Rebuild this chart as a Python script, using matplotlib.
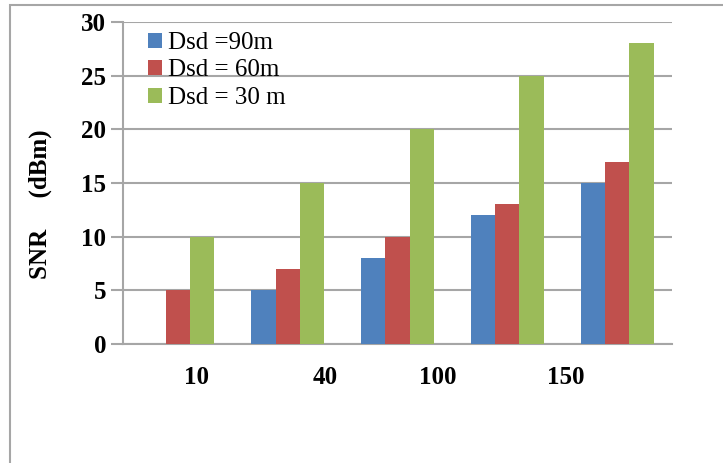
import numpy as np
import matplotlib.pyplot as plt
from matplotlib.patches import Rectangle, Patch

# SNR values for each relay distance group
snr_90 = [0, 5, 8, 12, 15]
snr_60 = [5, 7, 10, 13, 17]
snr_30 = [10, 15, 20, 25, 28]
series_labels = ["Dsd =90m", "Dsd = 60m", "Dsd = 30 m"]
x_labels = ["10", "40", "100", "150"]

colors = ["#4F81BD", "#C0504D", "#9BBB59"]
grid_gray = "#A6A6A6"
serif = ["Liberation Serif", "DejaVu Serif"]

fig = plt.figure(figsize=(7.23, 4.63), dpi=100)
ax = fig.add_axes([123 / 723, 1 - 344 / 463, 549 / 723, 322 / 463])

# outer frame around the chart area
fig.add_artist(Rectangle((10 / 723, -0.05), 1.1, 1 - 5 / 463 + 0.05,
                         transform=fig.transFigure, fill=False,
                         edgecolor=grid_gray, linewidth=1.5))

x = np.arange(len(snr_30))
w = 0.222
for i, vals in enumerate([snr_90, snr_60, snr_30]):
    ax.bar(x + (i - 1) * w, vals, width=w, color=colors[i], zorder=3)

ax.set_xlim(-0.5, len(x) - 0.5)
ax.set_ylim(0, 30)
ax.set_yticks(np.arange(0, 31, 5))
ax.yaxis.grid(True, color=grid_gray, linewidth=1.5, zorder=0)
ax.set_axisbelow(True)

for s in ["top", "right"]:
    ax.spines[s].set_visible(False)
for s in ["left", "bottom"]:
    ax.spines[s].set_color(grid_gray)
    ax.spines[s].set_linewidth(1.5)

ax.tick_params(axis="y", length=9, width=1.5, color=grid_gray, pad=3)
ax.tick_params(axis="x", length=0, pad=16)
for t in ax.get_yticklabels():
    t.set_fontfamily(serif)
    t.set_fontweight("bold")
    t.set_fontsize(18)

# category labels sit off the group centres
label_pos = [0.17, 1.34, 2.37, 3.53]
ax.set_xticks(label_pos)
ax.set_xticklabels(x_labels, fontfamily=serif, fontweight="bold", fontsize=18)

fig.text(40 / 723, 1 - 204 / 463, "SNR     (dBm)", rotation=90,
         ha="center", va="center", fontfamily=serif, fontweight="bold",
         fontsize=18)

handles = [Patch(facecolor=c) for c in colors]
fig.legend(handles, series_labels, loc="upper left",
           bbox_to_anchor=(148 / 723, 1 - 32 / 463), frameon=False,
           prop={"family": serif, "size": 18},
           handlelength=0.55, handleheight=0.55, handletextpad=0.25,
           labelspacing=0.22, borderpad=0, borderaxespad=0)

fig.savefig("out.png", dpi=100)
